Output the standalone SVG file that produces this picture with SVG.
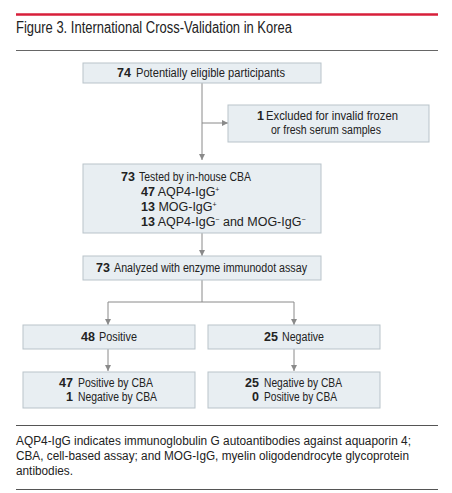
<svg xmlns="http://www.w3.org/2000/svg" width="452" height="493" viewBox="0 0 452 493">
<style>
.box{fill:#e8eef2;stroke:#b9c3ca;stroke-width:1}
.t{font-family:"Liberation Sans",Arial,sans-serif;font-size:12.5px;fill:#222}
.b{font-weight:bold}
.sup{font-size:7px}
.c{fill:none;stroke:#8a8a8a;stroke-width:1}
.cap{font-family:"Liberation Sans",Arial,sans-serif;font-size:12.5px;fill:#222}
</style>
<defs>
<marker id="ah" viewBox="0 0 6 6" refX="6" refY="3" markerWidth="6" markerHeight="6" orient="auto" markerUnits="userSpaceOnUse">
<path d="M0,0 L6,3 L0,6 z" fill="#8a8a8a"/>
</marker>
</defs>
<rect width="452" height="493" fill="#fff"/>
<line x1="16" y1="14.5" x2="438" y2="14.5" stroke="#d71f3a" stroke-width="2.5"/>
<text x="16" y="32.5" font-family="'Liberation Sans',Arial,sans-serif" font-size="16" fill="#222" textLength="276" lengthAdjust="spacingAndGlyphs">Figure 3. International Cross-Validation in Korea</text>
<line x1="16" y1="50.5" x2="438" y2="50.5" stroke="#666" stroke-width="1"/>

<g id="connectors">
<path class="c" d="M202,83 V160" marker-end="url(#ah)"/>
<path class="c" d="M202,123 H228" marker-end="url(#ah)"/>
<path class="c" d="M202,233 V256" marker-end="url(#ah)"/>
<path class="c" d="M202,280 V302"/>
<path class="c" d="M108,302 H294"/>
<path class="c" d="M108,302 V325" marker-end="url(#ah)"/>
<path class="c" d="M294,302 V325" marker-end="url(#ah)"/>
<path class="c" d="M108,349 V371" marker-end="url(#ah)"/>
<path class="c" d="M294,349 V371" marker-end="url(#ah)"/>
</g>

<g id="n1">
<rect class="box" x="83" y="63" width="238" height="20"/>
<text class="t b" x="117" y="77">74</text>
<text class="t" x="136" y="77" textLength="149" lengthAdjust="spacingAndGlyphs">Potentially eligible participants</text>
</g>
<g id="n2">
<rect class="box" x="228" y="105" width="201" height="37"/>
<text class="t b" x="257" y="120">1</text>
<text class="t" x="266" y="120" textLength="132" lengthAdjust="spacingAndGlyphs">Excluded for invalid frozen</text>
<text class="t" x="271" y="134" textLength="110" lengthAdjust="spacingAndGlyphs">or fresh serum samples</text>
</g>
<g id="n3">
<rect class="box" x="83" y="164" width="238" height="69"/>
<text class="t b" x="121" y="181">73</text>
<text class="t" x="139" y="181" textLength="112" lengthAdjust="spacingAndGlyphs">Tested by in-house CBA</text>
<text class="t" x="141" y="196" font-size="11.5"><tspan class="b">47</tspan> AQP4-IgG<tspan class="sup" baseline-shift="4">+</tspan></text>
<text class="t" x="141" y="211" font-size="11.5"><tspan class="b">13</tspan> MOG-IgG<tspan class="sup" baseline-shift="4">+</tspan></text>
<text class="t" x="141" y="226" font-size="11.5"><tspan class="b">13</tspan> AQP4-IgG<tspan class="sup" baseline-shift="4">−</tspan> and MOG-IgG<tspan class="sup" baseline-shift="4">−</tspan></text>
</g>
<g id="n4">
<rect class="box" x="83" y="256" width="238" height="24"/>
<text class="t b" x="96" y="272">73</text>
<text class="t" x="114" y="272" textLength="193" lengthAdjust="spacingAndGlyphs">Analyzed with enzyme immunodot assay</text>
</g>
<g id="n5">
<rect class="box" x="23" y="325" width="172" height="24"/>
<text class="t b" x="81" y="341">48</text>
<text class="t" x="99" y="341" textLength="38" lengthAdjust="spacingAndGlyphs">Positive</text>
</g>
<g id="n6">
<rect class="box" x="208" y="325" width="172" height="24"/>
<text class="t b" x="264" y="341">25</text>
<text class="t" x="282" y="341" textLength="42" lengthAdjust="spacingAndGlyphs">Negative</text>
</g>
<g id="n7">
<rect class="box" x="23" y="372" width="172" height="36"/>
<text class="t b" x="73" y="387" text-anchor="end">47</text>
<text class="t" x="78" y="387" textLength="75" lengthAdjust="spacingAndGlyphs">Positive by CBA</text>
<text class="t b" x="73" y="401" text-anchor="end">1</text>
<text class="t" x="78" y="401" textLength="79" lengthAdjust="spacingAndGlyphs">Negative by CBA</text>
</g>
<g id="n8">
<rect class="box" x="208" y="372" width="172" height="36"/>
<text class="t b" x="259" y="387" text-anchor="end">25</text>
<text class="t" x="264" y="387" textLength="78" lengthAdjust="spacingAndGlyphs">Negative by CBA</text>
<text class="t b" x="259" y="401" text-anchor="end">0</text>
<text class="t" x="264" y="401" textLength="73" lengthAdjust="spacingAndGlyphs">Positive by CBA</text>
</g>

<line x1="16" y1="425.5" x2="438" y2="425.5" stroke="#555" stroke-width="1"/>
<text class="cap" x="16" y="445" textLength="395" lengthAdjust="spacingAndGlyphs">AQP4-IgG indicates immunoglobulin G autoantibodies against aquaporin 4;</text>
<text class="cap" x="16" y="460" textLength="393" lengthAdjust="spacingAndGlyphs">CBA, cell-based assay; and MOG-IgG, myelin oligodendrocyte glycoprotein</text>
<text class="cap" x="16" y="475" textLength="57" lengthAdjust="spacingAndGlyphs">antibodies.</text>
<line x1="16" y1="489.5" x2="438" y2="489.5" stroke="#555" stroke-width="1"/>
</svg>
